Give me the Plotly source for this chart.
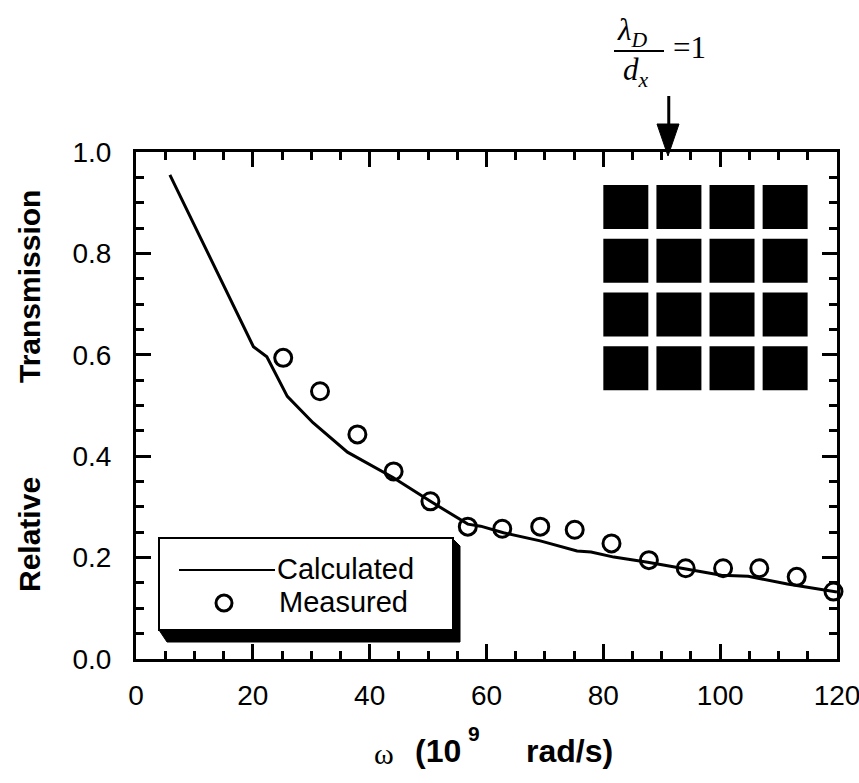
import plotly.graph_objects as go

# ---- data ----
calc_x = [5.8, 20.1, 22.4, 25.9, 30.3, 32.0, 36.2, 44.0, 50.4, 56.8, 59.0, 62.9,
          69.2, 75.5, 77.9, 81.8, 87.6, 94.4, 100.2, 104.8, 111.5, 120.0]
calc_y = [0.955, 0.616, 0.596, 0.518, 0.466, 0.449, 0.408, 0.358, 0.311, 0.266, 0.262, 0.249,
          0.233, 0.213, 0.211, 0.201, 0.191, 0.177, 0.165, 0.163, 0.148, 0.132]

meas_x = [25.2, 31.5, 37.9, 44.1, 50.4, 56.8, 62.7, 69.2, 75.1, 81.4, 87.8, 94.1,
          100.5, 106.7, 113.1, 119.4]
meas_y = [0.594, 0.528, 0.443, 0.370, 0.311, 0.261, 0.257, 0.261, 0.255, 0.228, 0.195, 0.179,
          0.179, 0.179, 0.162, 0.133]

x_ticks = [0, 20, 40, 60, 80, 100, 120]
y_ticks = [0.0, 0.2, 0.4, 0.6, 0.8, 1.0]
y_tick_labels = ["0.0", "0.2", "0.4", "0.6", "0.8", "1.0"]
arrow_x = 91.2

# screen geometry (body margin removed in the page)
W, H = 859, 783
SL, ST, SR, SB = 136, 152, 837, 659
PW, PH = SR - SL, SB - ST


def px(x):
    return (x - SL) / PW


def py(y):
    return (SB - y) / PH


fig = go.Figure()
fig.add_trace(go.Scatter(x=calc_x, y=calc_y, mode="lines", name="Calculated",
                         line=dict(color="black", width=3), showlegend=False))
fig.add_trace(go.Scatter(x=meas_x, y=meas_y, mode="markers", name="Measured",
                         marker=dict(symbol="circle-open", size=17, color="black",
                                     line=dict(width=3, color="black")),
                         showlegend=False, cliponaxis=False))

shapes = []
# inset: 4x4 black squares
for i in range(4):
    for j in range(4):
        x0 = 80.0 + i * 9.09
        y1 = 0.935 - j * 0.106
        shapes.append(dict(type="rect", xref="x", yref="y", x0=x0, x1=x0 + 7.7,
                           y0=y1 - 0.087, y1=y1, fillcolor="black", line=dict(width=0)))

# arrow
shapes.append(dict(type="line", xref="x", yref="paper", x0=arrow_x, x1=arrow_x,
                   y0=py(96), y1=py(128), line=dict(color="black", width=3)))
shapes.append(dict(type="path", xref="paper", yref="paper",
                   path=f"M {px(657)},{py(124)} L {px(679)},{py(124)} L {px(668)},{py(156)} Z",
                   fillcolor="black", line=dict(color="black", width=1)))
# fraction bar
shapes.append(dict(type="line", xref="paper", yref="paper", x0=px(614), x1=px(664),
                   y0=py(51), y1=py(51), line=dict(color="black", width=2)))

# custom legend box with shadow
shapes.append(dict(type="path", xref="paper", yref="paper",
                   path=(f"M {px(452)},{py(538)} L {px(460)},{py(546)} L {px(460)},{py(642)} "
                         f"L {px(167)},{py(642)} L {px(159)},{py(630)} L {px(452)},{py(630)} Z"),
                   fillcolor="black", line=dict(color="black", width=1)))
shapes.append(dict(type="rect", xref="paper", yref="paper", x0=px(159), x1=px(453),
                   y0=py(630), y1=py(538), fillcolor="white", line=dict(color="black", width=2)))
shapes.append(dict(type="line", xref="paper", yref="paper", x0=px(179), x1=px(275),
                   y0=py(570), y1=py(570), line=dict(color="black", width=2)))
shapes.append(dict(type="circle", xref="paper", yref="paper", x0=px(216), x1=px(232),
                   y0=py(611), y1=py(595), line=dict(color="black", width=3)))

ann = []
tfont = dict(family="Liberation Sans, Arial", size=29, color="black")
ann.append(dict(text="Calculated", x=px(275), y=py(569), xref="paper", yref="paper",
                xanchor="left", yanchor="middle", showarrow=False, font=tfont))
ann.append(dict(text="Measured", x=px(277), y=py(602), xref="paper", yref="paper",
                xanchor="left", yanchor="middle", showarrow=False, font=tfont))
# y title (two words)
bfont = dict(family="Liberation Sans, Arial", size=30, color="black")
ann.append(dict(text="<b>Relative</b>", x=px(29), y=py(535), xref="paper", yref="paper",
                textangle=-90, xanchor="center", yanchor="middle", showarrow=False, font=bfont))
ann.append(dict(text="<b>Transmission</b>", x=px(29), y=py(287), xref="paper", yref="paper",
                textangle=-90, xanchor="center", yanchor="middle", showarrow=False, font=bfont))
# x title pieces
xfont = dict(family="Liberation Sans, Arial", size=32, color="black")
ann.append(dict(text="ω", x=px(384), y=py(753), xref="paper", yref="paper",
                xanchor="center", yanchor="middle", showarrow=False,
                font=dict(family="Liberation Serif, Times New Roman", size=30, color="black")))
ann.append(dict(text="<b>(10</b>", x=px(413), y=py(751), xref="paper", yref="paper",
                xanchor="left", yanchor="middle", showarrow=False, font=xfont))
ann.append(dict(text="<b>9</b>", x=px(474), y=py(733), xref="paper", yref="paper",
                xanchor="center", yanchor="middle", showarrow=False,
                font=dict(family="Liberation Sans, Arial", size=21, color="black")))
ann.append(dict(text="<b>rad/s)</b>", x=px(524), y=py(751), xref="paper", yref="paper",
                xanchor="left", yanchor="middle", showarrow=False, font=xfont))
# fraction annotation
sfont = dict(family="Liberation Serif, Times New Roman", size=31, color="black")
ann.append(dict(text="<i>λ</i><sub><i>D</i></sub>", x=px(632), y=py(32), xref="paper",
                yref="paper", xanchor="center", yanchor="middle", showarrow=False, font=sfont))
ann.append(dict(text="<i>d</i><sub><i>x</i></sub>", x=px(636), y=py(72), xref="paper",
                yref="paper", xanchor="center", yanchor="middle", showarrow=False, font=sfont))
ann.append(dict(text="=1", x=px(689), y=py(47), xref="paper", yref="paper",
                xanchor="center", yanchor="middle", showarrow=False, font=sfont))

axis_common = dict(showline=True, linecolor="black", linewidth=3, mirror="ticks",
                   ticks="inside", tickcolor="black", tickwidth=3, ticklen=15,
                   showgrid=False, zeroline=False, ticklabeloverflow="allow",
                   automargin=False,
                   tickfont=dict(family="Liberation Sans, Arial", size=28, color="black"))

fig.update_layout(
    width=W, height=H,
    margin=dict(l=SL, r=W - SR, t=ST, b=H - SB),
    plot_bgcolor="white", paper_bgcolor="white",
    xaxis=dict(range=[0, 120], tickvals=x_ticks,
               minor=dict(dtick=5, ticks="inside", ticklen=8, tickwidth=2.5, tickcolor="black"),
               ticklabelstandoff=9, **axis_common),
    yaxis=dict(range=[0, 1.0], tickvals=y_ticks, ticktext=y_tick_labels,
               minor=dict(dtick=0.05, ticks="inside", ticklen=8, tickwidth=2.5, tickcolor="black"),
               ticklabelstandoff=16, **axis_common),
    shapes=shapes, annotations=ann, showlegend=False,
)

fig.write_html("out.html", config={"displayModeBar": False},
               post_script="document.body.style.margin='0';document.body.style.overflow='hidden';")
